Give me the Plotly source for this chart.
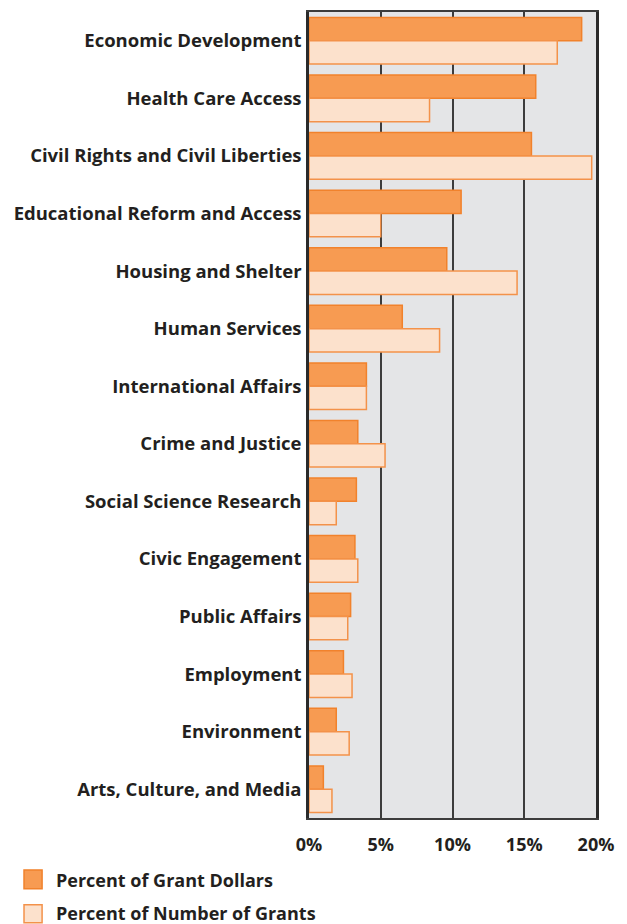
import plotly.graph_objects as go

categories = [
    "Economic Development", "Health Care Access", "Civil Rights and Civil Liberties",
    "Educational Reform and Access", "Housing and Shelter", "Human Services",
    "International Affairs", "Crime and Justice", "Social Science Research",
    "Civic Engagement", "Public Affairs", "Employment", "Environment",
    "Arts, Culture, and Media",
]
pct_grant_dollars = [19.0, 15.8, 15.5, 10.6, 9.6, 6.5, 4.0, 3.4, 3.3, 3.2, 2.9, 2.4, 1.9, 1.0]
pct_number_grants = [17.3, 8.4, 19.7, 5.0, 14.5, 9.1, 4.0, 5.3, 1.9, 3.4, 2.7, 3.0, 2.8, 1.6]
series_names = ["Percent of Grant Dollars", "Percent of Number of Grants"]
tick_values = [0, 5, 10, 15, 20]
tick_labels = ["0%", "5%", "10%", "15%", "20%"]

TEXT = "#231f20"
FONT = "Open Sans"
FILL_DOLLARS, LINE_DOLLARS = "#f79b52", "#f1822c"
FILL_GRANTS, LINE_GRANTS = "#fce1cc", "#f3924a"

fig = go.Figure()
fig.add_trace(go.Bar(
    y=categories, x=pct_grant_dollars, orientation="h", name=series_names[0],
    marker=dict(color=FILL_DOLLARS, line=dict(color=LINE_DOLLARS, width=1.5)),
))
fig.add_trace(go.Bar(
    y=categories, x=pct_number_grants, orientation="h", name=series_names[1],
    marker=dict(color=FILL_GRANTS, line=dict(color=LINE_GRANTS, width=1.5)),
))

# manual legend (larger swatches than plotly's built-in legend)
legend_rows = [
    (series_names[0], FILL_DOLLARS, LINE_DOLLARS, -0.0644, -0.0879, -0.0767),
    (series_names[1], FILL_GRANTS, LINE_GRANTS, -0.1077, -0.1300, -0.1176),
]
for name, fill, line, y1, y0, yt in legend_rows:
    fig.add_shape(type="rect", xref="paper", yref="paper",
                  x0=-0.993, x1=-0.930, y0=y0, y1=y1,
                  fillcolor=fill, line=dict(color=line, width=1.5))
    fig.add_annotation(xref="paper", yref="paper", x=-0.888, y=yt,
                       xanchor="left", yanchor="middle", showarrow=False,
                       text=name, font=dict(family=FONT, size=18, color=TEXT, weight="bold"))

fig.update_layout(
    width=611, height=916,
    margin=dict(l=301, r=23, t=2, b=106),
    paper_bgcolor="white", plot_bgcolor="#e4e5e7",
    barmode="group", bargap=0.19, bargroupgap=0,
    font=dict(family=FONT, color=TEXT, size=18, weight="bold"),
    showlegend=False,
)
fig.update_xaxes(
    range=[0, 20], tickvals=tick_values, ticktext=tick_labels,
    showgrid=True, gridcolor="#3c3c3c", gridwidth=1.5,
    showline=True, linecolor="#3c3c3c", linewidth=1.5, mirror=True,
    zeroline=False, ticks="", ticklabelstandoff=10,
    tickfont=dict(family=FONT, size=18, color=TEXT, weight="bold"),
    fixedrange=True,
)
fig.update_yaxes(
    autorange="reversed", showgrid=False,
    showline=True, linecolor="#2a2a2a", linewidth=2.5, mirror=True,
    ticks="", ticklabelstandoff=1,
    tickfont=dict(family=FONT, size=18.5, color=TEXT, weight="bold"),
    fixedrange=True,
)

fig.write_html("out.html")
